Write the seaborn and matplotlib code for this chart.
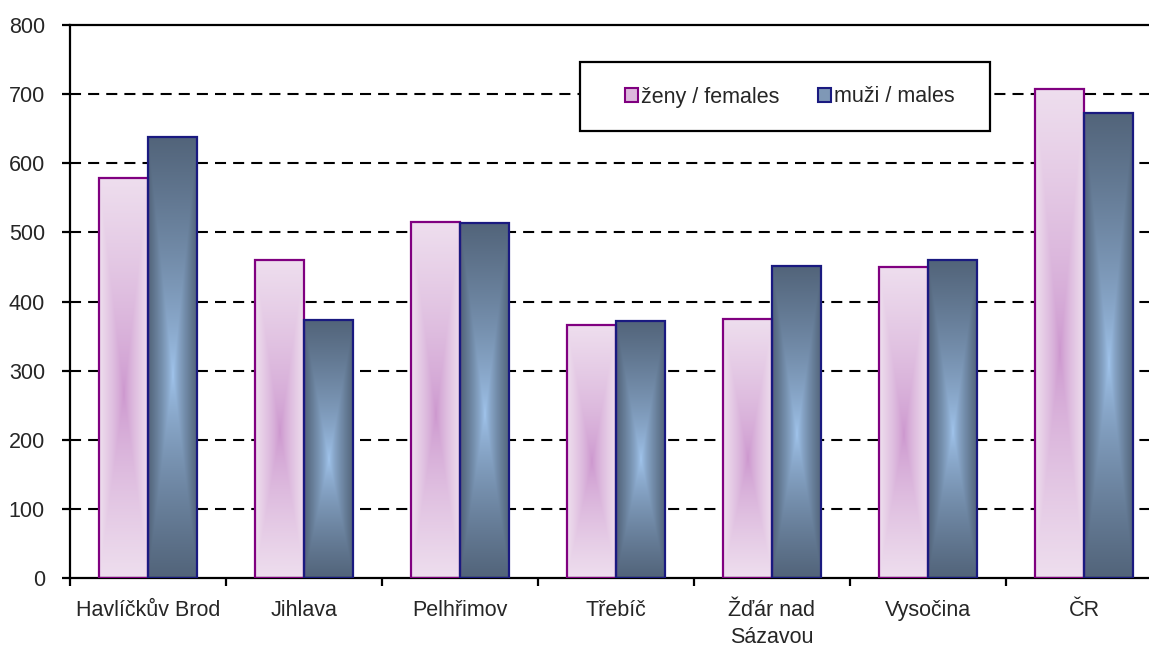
import numpy as np
import pandas as pd
import matplotlib
matplotlib.use("Agg")
import matplotlib.pyplot as plt
from matplotlib.patches import Patch, Rectangle
import seaborn as sns

categories = ["Havlíčkův Brod", "Jihlava", "Pelhřimov", "Třebíč", "Žďár nad\nSázavou", "Vysočina", "ČR"]
females = [579, 460, 515, 366, 375, 450, 708]
males = [638, 373, 514, 372, 452, 460, 673]
series_names = ["ženy / females", "muži / males"]
y_ticks = [0, 100, 200, 300, 400, 500, 600, 700, 800]

df = pd.DataFrame({
    "cat": categories * 2,
    "val": females + males,
    "sex": [series_names[0]] * len(categories) + [series_names[1]] * len(categories),
})

sns.set_theme(style="white")
plt.rcParams["font.family"] = ["Liberation Sans", "DejaVu Sans"]

W, H = 1149, 653
FS = 15.5
fig = plt.figure(figsize=(W / 100, H / 100), dpi=100)
ax = fig.add_axes([70 / W, (H - 578) / H, 1092 / W, 553 / H])

edge_cols = {series_names[0]: "#800080", series_names[1]: "#1a1a80"}
grad = {
    series_names[0]: (np.array([238, 222, 238]) / 255, np.array([204, 150, 206]) / 255),
    series_names[1]: (np.array([82, 100, 122]) / 255, np.array([162, 198, 238]) / 255),
}

sns.barplot(data=df, x="cat", y="val", hue="sex", order=categories,
            hue_order=series_names, width=0.63, gap=0,
            palette={series_names[0]: "#EEDEEE", series_names[1]: "#52647A"},
            ax=ax, legend=False, saturation=1)

ax.set_xlim(-0.5, 6.5)
ax.set_ylim(0, 800)

# gradient fills
ny, nx = 160, 60
u = np.linspace(0, 1, nx)[None, :]
v = np.linspace(0, 1, ny)[:, None]
fv = 0.46
dv = np.where(v > fv, (v - fv) / (1 - fv), (fv - v) / fv)
du = np.abs(u - 0.5) / 0.5
d = np.maximum(du, dv)
d = np.clip(d, 0, 1) ** 0.75

for i, cont in enumerate(ax.containers):
    name = series_names[i]
    edge, center = grad[name]
    img = center[None, None, :] * (1 - d[..., None]) + edge[None, None, :] * d[..., None]
    for p in cont.patches:
        x0, y0, w, h = p.get_x(), p.get_y(), p.get_width(), p.get_height()
        im = ax.imshow(img, extent=[x0, x0 + w, y0, y0 + h], origin="lower",
                       aspect="auto", zorder=2, interpolation="bilinear")
        im.set_clip_path(p)
        p.set_facecolor("none")
        p.set_edgecolor(edge_cols[name])
        p.set_linewidth(1.6)
        p.set_zorder(3)

ax.set_xlim(-0.5, 6.5)
ax.set_ylim(0, 800)
ax.set_aspect("auto")

# grid
ax.set_yticks(y_ticks)
for yv in y_ticks[1:-1]:
    ax.axhline(yv, color="black", lw=1.5, ls=(0, (5.3, 3.4)), zorder=1)

# spines
for s in ["left", "bottom", "top"]:
    ax.spines[s].set_visible(True)
    ax.spines[s].set_color("black")
    ax.spines[s].set_linewidth(1.6)
ax.spines["right"].set_visible(False)

# ticks
ax.set_xticks(np.arange(-0.5, 7, 1.0))
ax.set_xticklabels([])
ax.set_xticks(np.arange(len(categories)), minor=True)
ax.set_xticklabels(categories, minor=True, fontsize=FS, linespacing=1.35)
ax.tick_params(axis="x", which="major", length=6, width=1.6, direction="out", bottom=True, color="black")
ax.tick_params(axis="x", which="minor", length=0, pad=16)
ax.tick_params(axis="y", length=6, width=1.6, direction="out", left=True, labelsize=FS, pad=12, color="black")
ax.set_xlabel("")
ax.set_ylabel("")

# legend box (frame drawn separately to match reference geometry)
def ax_x(px):
    return (px - 70) / 1092

def ax_y(py):
    return (578 - py) / 553

shadow = Rectangle((ax_x(581), ax_y(132)), ax_x(991) - ax_x(581), ax_y(63) - ax_y(132),
                   transform=ax.transAxes, facecolor="#444444", edgecolor="none", zorder=5)
ax.add_patch(shadow)
frame = Rectangle((ax_x(580), ax_y(131)), ax_x(990) - ax_x(580), ax_y(62) - ax_y(131),
                  transform=ax.transAxes, facecolor="white", edgecolor="black", lw=1.6, zorder=6)
ax.add_patch(frame)

handles = [
    Patch(facecolor="#DDB8DD", edgecolor=edge_cols[series_names[0]], linewidth=1.5),
    Patch(facecolor="#7F98B6", edgecolor=edge_cols[series_names[1]], linewidth=1.5),
]
leg = ax.legend(handles, series_names, loc="center", bbox_to_anchor=(ax_x(790), ax_y(97)),
                ncol=2, fontsize=FS, frameon=False,
                handlelength=0.6, handleheight=0.6,
                handletextpad=0.15, columnspacing=1.8, borderpad=0, borderaxespad=0)
leg.set_zorder(7)

fig.savefig("out.png", dpi=100)
